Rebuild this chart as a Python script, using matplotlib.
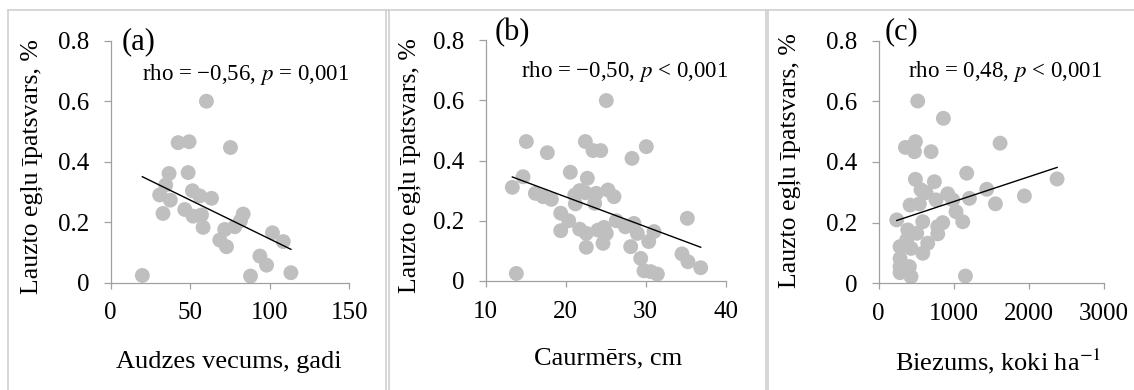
import matplotlib
matplotlib.use("Agg")
import matplotlib.pyplot as plt
from matplotlib.lines import Line2D
import numpy as np

plt.rcParams.update({'font.family': 'Liberation Serif', 'mathtext.fontset': 'stix'})

# (a) stand age, years
age = [19.9, 60.2, 42.4, 49.3, 75.3, 36.7, 48.7, 34.6, 30.8, 37.5,
       51.4, 56.0, 63.4, 32.9, 46.6, 51.8, 57.1, 58.1, 83.3, 81.6,
       78.0, 71.7, 68.6, 72.8, 101.7, 108.5, 93.8, 98.0, 87.9, 113.3]
share_age = [0.024, 0.600, 0.463, 0.466, 0.447, 0.361, 0.364, 0.323, 0.290, 0.273,
             0.304, 0.287, 0.279, 0.229, 0.242, 0.220, 0.224, 0.183, 0.227, 0.205,
             0.185, 0.176, 0.141, 0.119, 0.165, 0.136, 0.088, 0.058, 0.022, 0.033]

# (b) mean diameter, cm
diam = [13.33, 13.83, 14.67, 15.08, 16.21, 17.17, 17.71, 18.21, 19.38, 19.38,
        20.38, 20.58, 21.13, 21.21, 21.75, 21.75, 22.46, 22.71, 22.46, 22.58,
        22.58, 23.42, 24.38, 23.63, 23.83, 24.04, 24.67, 25.08, 24.79, 25.08,
        25.29, 26.04, 26.33, 27.46, 28.13, 28.29, 28.54, 28.96, 29.38, 29.79,
        30.08, 30.38, 30.63, 31.04, 31.46, 35.21, 34.54, 35.29, 36.88]
share_diam = [0.311, 0.025, 0.346, 0.463, 0.291, 0.280, 0.426, 0.271, 0.225, 0.167,
              0.200, 0.361, 0.285, 0.256, 0.300, 0.172, 0.463, 0.341, 0.293, 0.158,
              0.112, 0.433, 0.433, 0.258, 0.291, 0.169, 0.125, 0.158, 0.178, 0.599,
              0.302, 0.280, 0.200, 0.180, 0.114, 0.407, 0.191, 0.158, 0.075, 0.034,
              0.446, 0.131, 0.031, 0.164, 0.023, 0.208, 0.090, 0.064, 0.044]

# (c) stand density, trees per ha
dens = [240, 284, 284, 284, 284, 356, 409, 431, 418, 373,
        387, 489, 476, 489, 520, 431, 507, 542, 564, 587,
        587, 631, 653, 698, 742, 764, 787, 787, 853, 862,
        920, 987, 1031, 1120, 1156, 1173, 1209, 1440, 1556, 1618,
        1942, 2378]
share_dens = [0.209, 0.121, 0.082, 0.055, 0.035, 0.448, 0.055, 0.022, 0.258, 0.143,
              0.176, 0.467, 0.434, 0.343, 0.601, 0.115, 0.165, 0.262, 0.308, 0.203,
              0.099, 0.299, 0.132, 0.434, 0.335, 0.275, 0.187, 0.163, 0.200, 0.544,
              0.295, 0.275, 0.236, 0.203, 0.024, 0.363, 0.280, 0.310, 0.262, 0.462,
              0.288, 0.344]

panels = [
    dict(x=age, y=share_age, xlim=(0, 150), xticks=[0, 50, 100, 150],
         rect=[0.0976, 0.2751, 0.2104, 0.6205], tag='(a)', tag_pos=(0.046, 0.996),
         stat='rho = \u22120,56, $p$ = 0,001', stat_pos=(0.130, 0.862),
         xlabel='Audzes vecums, gadi', xlab_pos=(0.496, -0.326), ylab_pos=(-0.331, 0.479)),
    dict(x=diam, y=share_diam, xlim=(10, 40), xticks=[10, 20, 30, 40],
         rect=[0.4283, 0.2795, 0.2116, 0.6179], tag='(b)', tag_pos=(0.0375, 1.03),
         stat='rho = \u22120,50, $p$ < 0,001', stat_pos=(0.148, 0.868),
         xlabel='Caurmērs, cm', xlab_pos=(0.511, -0.321), ylab_pos=(-0.317, 0.481)),
    dict(x=dens, y=share_dens, xlim=(0, 3000), xticks=[0, 1000, 2000, 3000],
         rect=[0.7749, 0.2736, 0.1984, 0.6221], tag='(c)', tag_pos=(0.024, 1.037),
         stat='rho = 0,48, $p$ < 0,001', stat_pos=(0.129, 0.872),
         xlabel='Biezums, koki ha$^{\u22121}$', xlab_pos=(0.532, -0.323), ylab_pos=(-0.397, 0.505)),
]

W, H = 1134, 390
fig = plt.figure(figsize=(W / 100, H / 100), dpi=100)

# light grey frames around each chart
frame_kw = dict(color='#d0d0d0', lw=1.2)
fig.add_artist(Line2D([8 / W, 1], [1 - 10 / H, 1 - 10 / H], transform=fig.transFigure, **frame_kw))
for px in [8, 386, 388.5, 765.5, 768]:
    fig.add_artist(Line2D([px / W, px / W], [0, 1 - 10 / H], transform=fig.transFigure, **frame_kw))

axis_grey = '#a0a0a0'
for p in panels:
    ax = fig.add_axes(p['rect'])
    x = np.array(p['x'])
    y = np.array(p['y'])
    ax.scatter(x, y, s=115, color='#bfbfbf', edgecolors='none', zorder=2)

    # linear trend over the data range
    k, b = np.polyfit(x, y, 1)
    xs = np.array([x.min(), x.max()])
    ax.plot(xs, k * xs + b, color='black', lw=1.0, zorder=3)

    ax.set_xlim(*p['xlim'])
    ax.set_ylim(0, 0.8)
    ax.set_xticks(p['xticks'])
    ax.set_yticks([0, 0.2, 0.4, 0.6, 0.8])
    ax.set_yticklabels(['0', '0.2', '0.4', '0.6', '0.8'])
    for s in ['top', 'right']:
        ax.spines[s].set_visible(False)
    for s in ['left', 'bottom']:
        ax.spines[s].set_color(axis_grey)
        ax.spines[s].set_linewidth(0.9)
    ax.tick_params(axis='x', direction='out', length=4.2, width=0.9, color=axis_grey,
                   labelsize=18, pad=10)
    ax.tick_params(axis='y', direction='out', length=5, width=0.9, color=axis_grey,
                   labelsize=18, pad=10.5)
    ax.set_facecolor('none')

    ax.text(*p['tag_pos'], p['tag'], transform=ax.transAxes, fontsize=22,
            ha='left', va='center')
    ax.text(*p['stat_pos'], p['stat'], transform=ax.transAxes, fontsize=16.5,
            ha='left', va='center', clip_on=False)
    ax.text(*p['xlab_pos'], p['xlabel'], transform=ax.transAxes, fontsize=19,
            ha='center', va='center')
    ax.text(*p['ylab_pos'], 'Lauzto egļu īpatsvars, %', transform=ax.transAxes,
            fontsize=18.5, rotation=90, ha='center', va='center')

fig.savefig('out.png', dpi=100)
